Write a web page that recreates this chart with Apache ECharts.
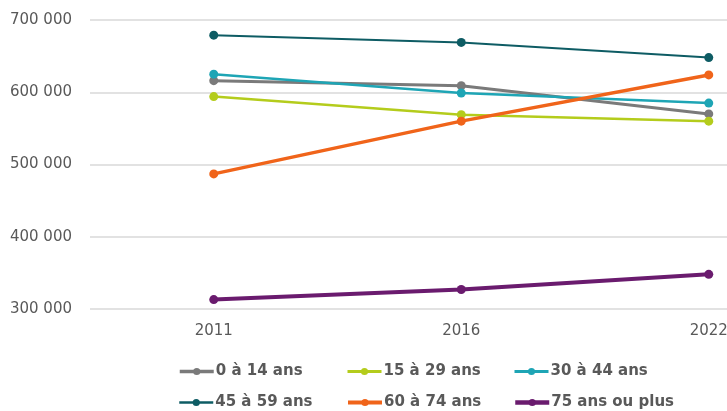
<!DOCTYPE html>
<html>
<head>
<meta charset="utf-8">
<script src="https://cdn.jsdelivr.net/npm/echarts@6/dist/echarts.min.js"></script>
<style>
  html, body { margin: 0; padding: 0; background: #fff; }
  #chart { width: 727px; height: 411px; }
</style>
</head>
<body>
<div id="chart"></div>
<script>
const years = ["2011", "2016", "2022"];

const groups = ["0 à 14 ans", "15 à 29 ans", "30 à 44 ans", "45 à 59 ans", "60 à 74 ans", "75 ans ou plus"];
const age0to14 = [616000, 609000, 570000];
const age15to29 = [594000, 569000, 560000];
const age30to44 = [625000, 599000, 585000];
const age45to59 = [679000, 669000, 648000];
const age60to74 = [487000, 560000, 624000];
const age75plus = [313000, 327000, 348000];

const colors = ["#7a7a7a", "#b4cc1c", "#1ea5b5", "#0e5c64", "#f0641a", "#6a1b6e"];
const widths = [3, 2.5, 2.5, 2, 3.5, 4];
const values = [age0to14, age15to29, age30to44, age45to59, age60to74, age75plus];

// colonnes et lignes de la légende
const legendLeft = [173, 341, 508];
const legendTop = [359, 390];

const chart = echarts.init(document.getElementById("chart"));

// une légende par entrée pour garder la grille 3 x 2
const legends = groups.map((name, i) => ({
  left: legendLeft[i % 3],
  top: legendTop[Math.floor(i / 3)],
  itemWidth: 34,
  itemHeight: 9,
  data: [name],
  lineStyle: { width: widths[i] + 0.5 },
  textStyle: {
    fontFamily: "DejaVu Sans",
    fontSize: 15,
    fontWeight: "bold",
    color: "#595959",
    padding: [0, 0, 0, -3],
  },
}));

chart.setOption({
  animation: false,
  color: colors,
  grid: { left: 90, width: 742.5, top: 20, height: 289, outerBoundsMode: "none" },
  legend: legends,
  xAxis: {
    type: "category",
    data: years,
    axisLine: { show: false },
    axisTick: { show: false },
    axisLabel: {
      margin: 15,
      fontFamily: "DejaVu Sans",
      fontSize: 15,
      color: "#595959",
    },
  },
  yAxis: {
    type: "value",
    min: 300000,
    max: 700000,
    interval: 100000,
    axisLabel: {
      margin: 18,
      fontFamily: "DejaVu Sans",
      fontSize: 15,
      color: "#595959",
      formatter: (v) => String(v).replace(/\B(?=(\d{3})+(?!\d))/g, " "),
    },
    splitLine: { lineStyle: { color: "#d9d9d9", width: 1.5 } },
  },
  series: groups.map((name, i) => ({
    name: name,
    type: "line",
    data: values[i],
    symbol: "circle",
    symbolSize: 9,
    lineStyle: { width: widths[i], color: colors[i] },
    itemStyle: { color: colors[i] },
  })),
});
</script>
</body>
</html>
